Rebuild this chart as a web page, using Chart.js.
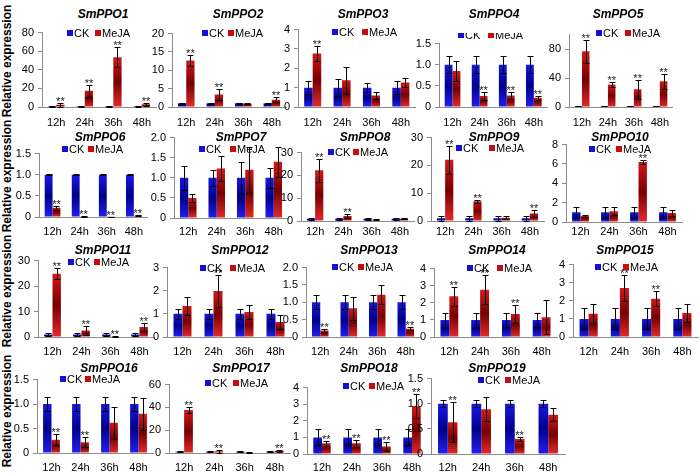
<!DOCTYPE html>
<html>
<head>
<meta charset="utf-8">
<script src="https://cdn.jsdelivr.net/npm/chart.js@4.4.1/dist/chart.umd.min.js"></script>
<style>
  html, body { margin: 0; padding: 0; background: #fff; }
  #wrap { position: relative; width: 700px; height: 475px; overflow: hidden;
          font-family: "Liberation Sans", Arial, sans-serif; }
  #wrap canvas { position: absolute; }
  .title { position: absolute; font-weight: bold; font-style: italic; font-size: 12px;
           transform: translate(-50%, -50%); white-space: nowrap; }
  .ylab { position: absolute; font-weight: bold; font-size: 12px;
          transform: translate(-50%, -50%) rotate(-90deg); white-space: nowrap; }
</style>
</head>
<body>
<div id="wrap"></div>
<script>
const categories = ["12h", "24h", "36h", "48h"];
const genes = ["SmPPO1", "SmPPO2", "SmPPO3", "SmPPO4", "SmPPO5",
  "SmPPO6", "SmPPO7", "SmPPO8", "SmPPO9", "SmPPO10",
  "SmPPO11", "SmPPO12", "SmPPO13", "SmPPO14", "SmPPO15",
  "SmPPO16", "SmPPO17", "SmPPO18", "SmPPO19"];
const seriesNames = ["CK", "MeJA"];

const ckMeans = [
  [1, 1, 1, 1], [1, 1, 1, 1], [1, 1, 1, 1], [1, 1, 1, 1], [1, 1, 1, 1],
  [1, 1, 1, 1], [1, 1, 1, 1], [1, 1, 1, 1], [1, 1, 1, 1], [1, 1, 1, 1],
  [1, 1, 1, 1], [1, 1, 1, 1], [1, 1, 1, 1], [1, 1, 1, 1], [1, 1, 1, 1],
  [1, 1, 1, 1], [1, 1, 1, 1], [1, 1, 1, 1], [1, 1, 1, 1]
];
const ckErrors = [
  [0.6, 0.6, 0.6, 0.6], [0.1, 0.1, 0.1, 0.1], [0.35, 0.43, 0.23, 0.35], [0.2, 0.2, 0.2, 0.2], [0.3, 0.3, 0.3, 0.3],
  [0.01, 0.01, 0.01, 0.01], [0.3, 0.2, 0.4, 0.25], [0.5, 0.5, 0.5, 0.5], [0.9, 0.9, 0.9, 0.9], [0.6, 0.6, 0.6, 0.6],
  [0.5, 0.5, 0.5, 0.5], [0.22, 0.22, 0.22, 0.22], [0.2, 0.2, 0.2, 0.2], [0.43, 0.43, 0.43, 0.43], [0.58, 0.58, 0.58, 0.58],
  [0.15, 0.15, 0.15, 0.15], [0.5, 0.5, 0.5, 0.5], [0.48, 0.48, 0.48, 0.48], [0.07, 0.07, 0.07, 0.07]
];
const mejaMeans = [
  [2.5, 17.5, 53.5, 3], [12.7, 3.4, 0.9, 2.0], [2.77, 1.38, 0.6, 1.27], [0.85, 0.26, 0.27, 0.22], [77, 31, 24.5, 35.5],
  [0.22, 0.02, 0.005, 0.03], [0.5, 1.23, 1.2, 1.4], [22.3, 2.2, 0.6, 1.0], [22, 7.1, 1.2, 2.7], [0.62, 1.1, 6.2, 0.93],
  [24.8, 2.6, 0.3, 3.9], [1.34, 1.99, 1.08, 0.65], [0.19, 0.83, 1.22, 0.24], [2.38, 2.76, 1.35, 1.16], [1.29, 2.71, 2.12, 1.33],
  [0.27, 0.22, 0.62, 0.8], [37.7, 1.5, 0.7, 2.0], [0.65, 0.65, 0.45, 2.88], [0.63, 0.89, 0.3, 0.78]
];
const mejaErrors = [
  [2, 6.5, 10.5, 1.8], [1.6, 1.5, 0.1, 0.7], [0.4, 0.7, 0.17, 0.25], [0.23, 0.1, 0.09, 0.05], [16, 3.3, 13, 10.5],
  [0.05, 0.01, 0.005, 0.01], [0.1, 0.3, 0.57, 0.37], [5, 0.8, 0.3, 0.3], [5, 0.6, 0.6, 1.4], [0.07, 0.4, 0.2, 0.27],
  [2.2, 1.7, 0.2, 1.6], [0.4, 0.7, 0.29, 0.29], [0.04, 0.33, 0.27, 0.04], [0.56, 0.85, 0.52, 1.0], [0.52, 0.7, 0.42, 0.48],
  [0.11, 0.1, 0.33, 0.33], [2.9, 1.2, 0.3, 1.0], [0.16, 0.22, 0.25, 0.73], [0.4, 0.24, 0.04, 0.13]
];
// 1 = marked "**"
const mejaStars = [
  [1, 1, 1, 1], [1, 1, 0, 1], [1, 0, 0, 0], [0, 1, 1, 1], [1, 1, 1, 1],
  [1, 1, 1, 1], [0, 0, 0, 0], [1, 1, 0, 0], [1, 1, 0, 1], [0, 0, 1, 0],
  [1, 1, 1, 1], [0, 1, 0, 0], [1, 0, 0, 1], [1, 1, 1, 0], [0, 1, 1, 0],
  [1, 1, 0, 0], [1, 1, 0, 1], [1, 1, 1, 1], [1, 0, 1, 0]
];
const yMax = [80, 20, 4, 1.5, 100, 1.5, 2, 30, 30, 8, 30, 3, 2, 4, 4, 1.5, 60, 4, 1.5];
const yStep = [20, 5, 1, 0.5, 20, 0.5, 0.5, 10, 10, 2, 10, 1, 0.5, 1, 1, 0.5, 20, 1, 0.5];
const yTitle = "Relative expression";

// page layout: [axisLeft, plotWidth, yTopPx, yZeroPx, titleX, titleY, legendCkX, legendMejaX, legendY, tickLabelY]
const panelBoxes = [
  [42, 115, 32, 107, 103, 14, 67, 95, 33, 123],
  [172, 115, 33, 107, 238, 14, 202, 228, 33, 123],
  [298, 118, 29, 107, 363, 14, 332, 362, 32, 123],
  [439, 110, 43, 107, 494, 14, 458, 488, 35, 123],
  [569, 106, 34, 107, 618, 14, 596, 625, 33, 123],
  [39, 109, 153, 217, 100, 137, 62, 88, 149, 232],
  [174, 114, 137, 218, 241, 137, 199, 230, 149, 232],
  [301, 113, 152, 221, 365, 137, 328, 353, 152, 232],
  [431, 113, 137, 221, 494, 137, 456, 489, 148, 232],
  [566, 116, 144, 222, 620, 137, 589, 616, 149, 232],
  [38, 116, 260, 337, 103, 250, 68, 94, 262, 352],
  [167, 124, 267, 337, 240, 250, 200, 230, 268, 352],
  [306, 114, 267, 337, 369, 250, 332, 358, 267, 352],
  [434, 123, 268, 337, 497, 250, 467, 497, 268, 352],
  [573, 125, 264, 337, 625, 250, 595, 623, 267, 352],
  [37, 116, 379, 453, 109, 368, 60, 85, 379, 468],
  [169, 121, 384, 453, 241, 368, 205, 233, 383, 468],
  [307, 120, 387, 454, 369, 368, 343, 369, 386, 468],
  [431, 134, 378, 454, 497, 368, 478, 505, 380, 468]
];
const yTitleCenters = [61, 176, 291, 411];

const FONT = '"Liberation Sans", Arial, sans-serif';
Chart.defaults.font.family = FONT;
Chart.defaults.color = "#000";

const blueStops = ["#1818e8", "#00008a", "#2020f0"];
const redStops = ["#d41818", "#760000", "#e42a2a"];
const legendColors = ["#1010d8", "#cc0a0a"];

function barFill(stops) {
  return ctx => {
    const chart = ctx.chart;
    if (!chart.chartArea || ctx.type !== "data") return stops[0];
    const y = chart.scales.y;
    const top = y.getPixelForValue(ctx.raw);
    const base = y.getPixelForValue(0);
    if (base - top < 2) return stops[0];
    const g = chart.ctx.createLinearGradient(0, top, 0, base);
    g.addColorStop(0, stops[0]);
    g.addColorStop(0.5, stops[1]);
    g.addColorStop(1, stops[2]);
    return g;
  };
}

const errorBars = {
  id: "errorBars",
  afterDatasetsDraw(chart) {
    const { ctx } = chart;
    const y = chart.scales.y;
    ctx.save();
    ctx.strokeStyle = "#000";
    ctx.lineWidth = 1;
    chart.data.datasets.forEach((ds, i) => {
      const meta = chart.getDatasetMeta(i);
      meta.data.forEach((bar, j) => {
        const v = ds.data[j], e = ds.errors[j];
        const yt = Math.round(y.getPixelForValue(v + e)) + 0.5;
        const yb = Math.round(y.getPixelForValue(Math.max(v - e, 0))) + 0.5;
        const x = Math.round(bar.x) + 0.5;
        ctx.beginPath();
        ctx.moveTo(x, yt); ctx.lineTo(x, yb);
        ctx.moveTo(x - 3, yt); ctx.lineTo(x + 3, yt);
        ctx.moveTo(x - 3, yb); ctx.lineTo(x + 3, yb);
        ctx.stroke();
        if (ds.stars && ds.stars[j]) {
          ctx.fillStyle = "#222";
          ctx.font = "11px " + FONT;
          ctx.textAlign = "center";
          ctx.textBaseline = "alphabetic";
          ctx.fillText("**", bar.x, yt + 1);
        }
      });
    });
    ctx.restore();
  }
};

const insideLegend = {
  id: "insideLegend",
  afterDraw(chart, args, opts) {
    const { ctx } = chart;
    ctx.save();
    ctx.font = "11px " + FONT;
    ctx.textBaseline = "middle";
    ctx.textAlign = "left";
    chart.data.datasets.forEach((ds, i) => {
      const x = opts.xs[i], y = opts.y;
      ctx.fillStyle = legendColors[i];
      ctx.fillRect(x, y - 3, 6, 6);
      ctx.fillStyle = "#000";
      ctx.fillText(ds.label, x + 7, y + 0.5);
    });
    ctx.restore();
  }
};

const wrap = document.getElementById("wrap");
const padTop = 10, yAxisW = 36, xAxisH = 24;

yTitleCenters.forEach(cy => {
  const d = document.createElement("div");
  d.className = "ylab";
  d.textContent = yTitle;
  d.style.left = "7px";
  d.style.top = cy + "px";
  wrap.appendChild(d);
});

genes.forEach((gene, i) => {
  const [ax, pw, yt, y0, tx, ty, lx1, lx2, ly, labY] = panelBoxes[i];
  const left = ax - yAxisW;
  const top = yt - padTop;

  const canvas = document.createElement("canvas");
  canvas.width = yAxisW + pw + 4;
  canvas.height = padTop + (y0 - yt) + xAxisH;
  canvas.style.left = left + "px";
  canvas.style.top = top + "px";
  wrap.appendChild(canvas);

  const t = document.createElement("div");
  t.className = "title";
  t.textContent = gene;
  t.style.left = tx + "px";
  t.style.top = ty + "px";
  wrap.appendChild(t);

  new Chart(canvas, {
    type: "bar",
    data: {
      labels: categories,
      datasets: [
        {
          label: seriesNames[0],
          data: ckMeans[i],
          errors: ckErrors[i],
          backgroundColor: barFill(blueStops),
          barPercentage: 1,
          categoryPercentage: 0.58
        },
        {
          label: seriesNames[1],
          data: mejaMeans[i],
          errors: mejaErrors[i],
          stars: mejaStars[i],
          backgroundColor: barFill(redStops),
          barPercentage: 1,
          categoryPercentage: 0.58
        }
      ]
    },
    options: {
      responsive: false,
      animation: false,
      layout: { padding: { top: padTop, left: 0, right: 4, bottom: 0 } },
      plugins: {
        legend: { display: false },
        tooltip: { enabled: false },
        insideLegend: { xs: [lx1 - left, lx2 - left], y: ly - top }
      },
      scales: {
        x: {
          grid: { display: false, drawTicks: false },
          border: { color: "#8c8c8c" },
          ticks: { color: "#000", font: { size: 11 }, padding: Math.max(0, labY - y0 - 6.5),
                   maxRotation: 0, autoSkip: false },
          afterFit(s) { s.height = xAxisH; }
        },
        y: {
          min: 0,
          max: yMax[i],
          ticks: { stepSize: yStep[i], color: "#000", font: { size: 11 }, padding: 4 },
          grid: { drawOnChartArea: false, tickLength: 4, color: "#8c8c8c" },
          border: { color: "#8c8c8c" },
          afterFit(s) { s.width = yAxisW; }
        }
      }
    },
    plugins: [errorBars, insideLegend]
  });
});
</script>
</body>
</html>
